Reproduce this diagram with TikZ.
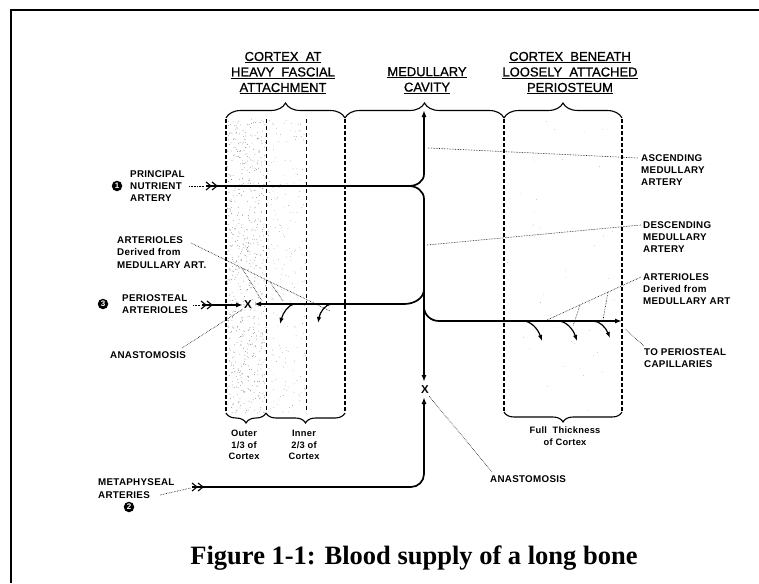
\documentclass[tikz,border=0pt]{standalone}
\usepackage{fontspec}
\setmainfont{Liberation Serif}
\setsansfont{Liberation Sans}
\newfontfamily\lblfont[LetterSpace=3]{Liberation Sans Bold}
\newfontfamily\hdrfont[FakeBold=0.8]{Liberation Sans}
\usetikzlibrary{decorations.pathreplacing,arrows.meta}
\begin{document}
\begin{tikzpicture}[x=1pt,y=-1pt,
  artery/.style={line width=1.7pt},
  arr/.style={-{Latex[length=7pt,width=5pt]}},
  sarr/.style={-{Latex[length=6pt,width=4.5pt]}},
  lead/.style={densely dotted,line width=0.6pt},
  dshk/.style={dash pattern=on 4pt off 2pt,line width=1.5pt},
  dshl/.style={dash pattern=on 4pt off 3pt,line width=0.9pt},
  brc/.style={decorate,decoration={brace,amplitude=15pt},line width=1.1pt},
  brcd/.style={decorate,decoration={brace,amplitude=10pt},line width=1.1pt},
  hdr/.style={font=\hdrfont\fontsize{13}{15.5}\selectfont,align=center,inner sep=0pt},
  lbl/.style={font=\lblfont\fontsize{9.8}{12.3}\selectfont,align=left,anchor=west,inner sep=0pt},
  sub/.style={font=\lblfont\fontsize{9.3}{11.7}\selectfont,align=center,inner sep=0pt},
  numc/.style={circle,fill=black,text=white,inner sep=0pt,minimum size=10.5pt,font=\sffamily\bfseries\fontsize{8}{8}\selectfont},
  xmark/.style={font=\sffamily\bfseries\fontsize{11.5}{11.5}\selectfont,inner sep=0pt},
  chev/.pic={\draw[line width=1.1pt] (-11,-4)--(-6,0)--(-11,4) (-5,-4)--(0,0)--(-5,4);}
]
\useasboundingbox (0,0) rectangle (759,583);
% frame
\draw[line width=2pt] (759,10) -- (11,10) -- (11,583);

% stippling
\pgfmathsetseed{7}
\foreach \i in {1,...,650} {\fill[black!55] ({226+40*rnd},{119+294*rnd}) circle (0.4pt);}
\foreach \i in {1,...,220} {\fill[black!45] ({266+40*rnd},{119+294*rnd}) circle (0.35pt);}
\foreach \i in {1,...,45} {\fill[black!40] ({504+118*rnd},{119+293*rnd}) circle (0.35pt);}

% dashed boundaries
\draw[dshk] (226,119) -- (226,413);
\draw[dshl] (266,119) -- (266,413);
\draw[dshl] (306,119) -- (306,413);
\draw[dshk] (345,119) -- (345,413);
\draw[dshk] (504,119) -- (504,412);
\draw[dshk] (622,119) -- (622,412);

% top braces
\draw[brc] (226,118) -- (345,118);
\draw[brc] (345,118) -- (504,118);
\draw[brc] (504,118) -- (622,118);
% bottom braces
\draw[brcd] (266,413) -- (226,413);
\draw[brcd] (345,413) -- (266,413);
\draw[brcd] (622,412) -- (504,412);

% headers
\node[hdr] (h1) at (283,73) {\underline{CORTEX\ \ AT}\\\underline{HEAVY\ \ FASCIAL}\\\underline{ATTACHMENT}};
\node[hdr] (h2) at (427,80.5) {\underline{MEDULLARY}\\\underline{CAVITY}};
\node[hdr] (h3) at (570,73) {\underline{CORTEX\ \ BENEATH}\\\underline{LOOSELY\ \ ATTACHED}\\\underline{PERIOSTEUM}};

% sub labels
\node[sub] (s1) at (244,445) {Outer\\1/3 of\\Cortex};
\node[sub] (s2) at (304,445) {Inner\\2/3 of\\Cortex};
\node[sub] (s3) at (565,436) {Full\ \ Thickness\\of Cortex};

% coordinates
\coordinate (nA) at (206,186);
\coordinate (nJ) at (409,186);
\coordinate (vUp) at (424,174);
\coordinate (vTop) at (424,110);
\coordinate (vDn) at (424,199);
\coordinate (vBot) at (424,382);
\coordinate (lJ) at (424,289);
\coordinate (lC) at (404,304);
\coordinate (pTip) at (254,304);
\coordinate (rJ) at (424,307);
\coordinate (rC) at (439,321);
\coordinate (rTip) at (622,321);
\coordinate (mA) at (192,487);
\coordinate (mC) at (411,487);
\coordinate (mUp) at (424,474);
\coordinate (mTip) at (424,397);
\coordinate (pA) at (202,305);
\coordinate (pB) at (243,305);

% arteries
\draw[artery,arr] (nA) -- (nJ) to[out=0,in=-90] (vUp) -- (vTop);
\draw[artery,arr] (nJ) to[out=0,in=90] (vDn) -- (vBot);
\draw[artery,arr] (lJ) to[out=-90,in=0] (lC) -- (pTip);
\draw[artery,arr] (rJ) to[out=-90,in=180] (rC) -- (rTip);
\draw[artery,arr] (mA) -- (mC) to[out=0,in=-90] (mUp) -- (mTip);
\draw[artery,arr] (pA) -- (pB);
\pic at (217,186) {chev};
\pic at (212,305) {chev};
\pic at (203,487) {chev};

% hooks
\coordinate (h1s) at (294,304); \coordinate (h1e) at (280,324);
\coordinate (h2s) at (331,304); \coordinate (h2e) at (318,323);
\draw[line width=1.2pt,sarr] (h1s) .. controls (288,305) and (283,313) .. (h1e);
\draw[line width=1.2pt,sarr] (h2s) .. controls (325,305) and (320,312) .. (h2e);
\coordinate (h3s) at (523,321); \coordinate (h3e) at (542,341);
\coordinate (h4s) at (558,321); \coordinate (h4e) at (577,341);
\coordinate (h5s) at (593,321); \coordinate (h5e) at (610,338);
\draw[line width=1.2pt,sarr] (h3s) .. controls (531,321) and (538,329) .. (h3e);
\draw[line width=1.2pt,sarr] (h4s) .. controls (566,321) and (573,329) .. (h4e);
\draw[line width=1.2pt,sarr] (h5s) .. controls (600,321) and (606,328) .. (h5e);

% X marks
\node[xmark] (x1) at (248,305) {X};
\node[xmark] (x2) at (425,390) {X};

% left labels
\node[numc] (c1) at (117,186) {1};
\node[lbl] (pna) at (130,186) {PRINCIPAL\\NUTRIENT\\ARTERY};
\node[numc] (c3) at (103,304) {3};
\node[lbl] (pea) at (122,304) {PERIOSTEAL\\ARTERIOLES};
\node[lbl] (arl) at (117,252.5) {ARTERIOLES\\Derived from\\MEDULLARY ART.};
\node[lbl] (anl) at (110,355) {ANASTOMOSIS};
\node[lbl] (mta) at (98,488.5) {METAPHYSEAL\\ARTERIES};
\node[numc] (c2) at (129,507) {2};

% right labels
\node[lbl] (asc) at (641,170) {ASCENDING\\MEDULLARY\\ARTERY};
\node[lbl] (dsc) at (643,237) {DESCENDING\\MEDULLARY\\ARTERY};
\node[lbl] (arr) at (643,289) {ARTERIOLES\\Derived from\\MEDULLARY ART};
\node[lbl] (tpc) at (644,358) {TO PERIOSTEAL\\CAPILLARIES};
\node[lbl] (anr) at (490,479) {ANASTOMOSIS};

% leaders
\coordinate (L1a) at (189,186); \coordinate (L1b) at (204,186);
\coordinate (L2a) at (193,305); \coordinate (L2b) at (201,305);
\coordinate (L3a) at (191,243); \coordinate (L3b) at (330,311);
\coordinate (L3c) at (242,268); \coordinate (L3d) at (262,301);
\coordinate (L3e) at (270,282); \coordinate (L3f) at (283,301);
\coordinate (L4a) at (182,348); \coordinate (L4b) at (243,309);
\coordinate (L5a) at (160,495); \coordinate (L5b) at (191,488);
\coordinate (L6a) at (428,148); \coordinate (L6b) at (638,158);
\coordinate (L7a) at (427,245); \coordinate (L7b) at (641,225);
\coordinate (L8a) at (641,277); \coordinate (L8b) at (547,320);
\coordinate (L8c) at (580,305); \coordinate (L8d) at (573,326);
\coordinate (L8e) at (608,292); \coordinate (L8f) at (603,320);
\coordinate (L9a) at (644,346); \coordinate (L9b) at (625,329);
\coordinate (L10a) at (492,472); \coordinate (L10b) at (429,396);
\draw[lead] (L1a) -- (L1b);
\draw[lead] (L2a) -- (L2b);
\draw[lead] (L3a) -- (L3b);
\draw[lead] (L3c) -- (L3d);
\draw[lead] (L3e) -- (L3f);
\draw[lead] (L4a) -- (L4b);
\draw[lead] (L5a) -- (L5b);
\draw[lead] (L6a) -- (L6b);
\draw[lead] (L7a) -- (L7b);
\draw[lead] (L8a) -- (L8b);
\draw[lead] (L8c) -- (L8d);
\draw[lead] (L8e) -- (L8f);
\draw[lead] (L9a) -- (L9b);
\draw[lead] (L10a) -- (L10b);

% caption
\node[font=\rmfamily\bfseries\fontsize{26.5}{30}\selectfont,anchor=base,inner sep=0pt] (cap) at (414,564) {Figure 1-1: Blood supply of a long bone};
\end{tikzpicture}
\end{document}
